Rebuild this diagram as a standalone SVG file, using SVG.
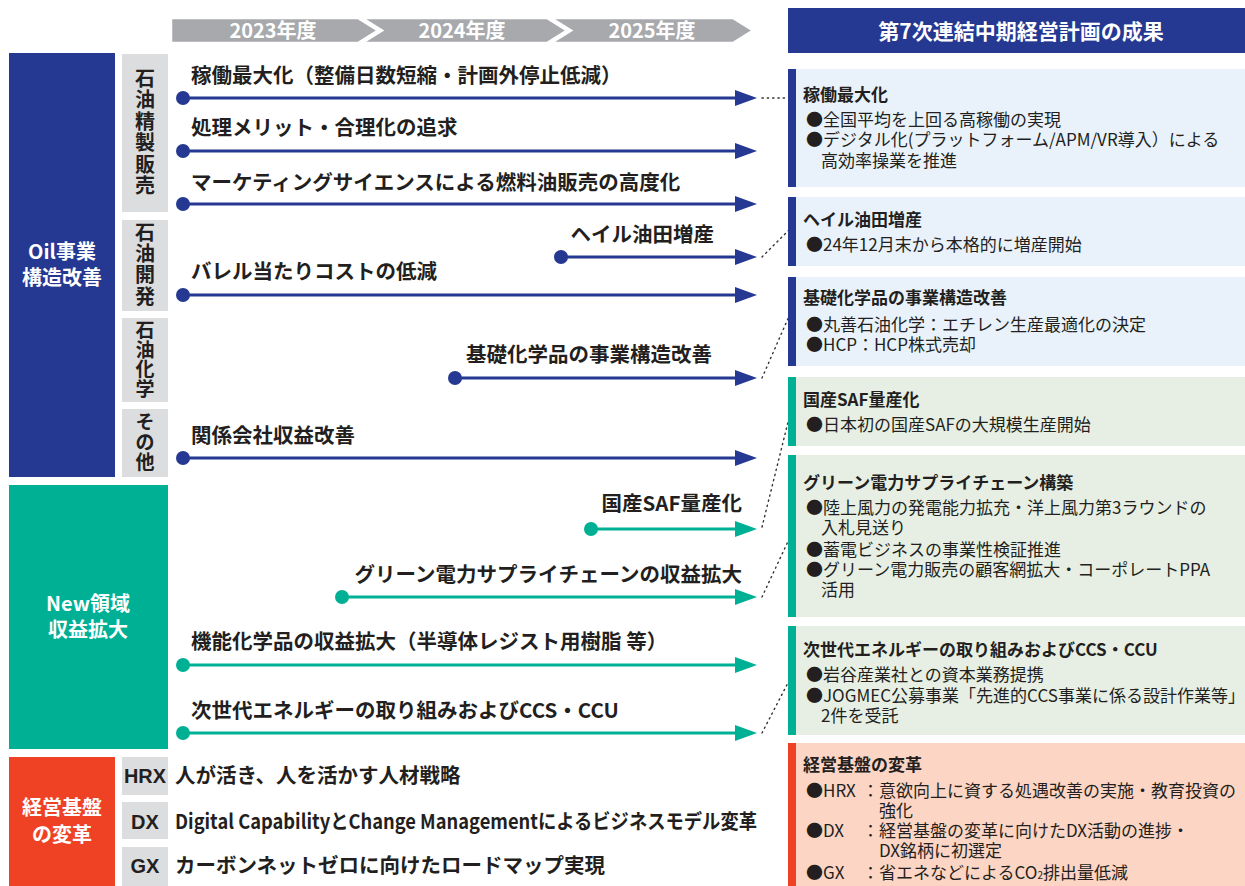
<svg xmlns="http://www.w3.org/2000/svg" width="1245" height="886" viewBox="0 0 1245 886">
<style>
.t{font-family:"Noto Sans CJK JP","Noto Sans",sans-serif;}
.lb{font-family:"Noto Sans CJK JP","Noto Sans",sans-serif;font-weight:700;font-size:20.5px;fill:#231f20;}
.wb{font-family:"Noto Sans CJK JP","Noto Sans",sans-serif;font-weight:700;fill:#ffffff;}
.vt{font-family:"Noto Sans CJK JP","Noto Sans",sans-serif;font-weight:700;font-size:20px;fill:#231f20;text-anchor:middle;}
.vs{font-family:"Noto Sans CJK JP","Noto Sans",sans-serif;font-weight:700;font-size:19px;fill:#231f20;text-anchor:middle;}
.bt{font-family:"Noto Sans CJK JP","Noto Sans",sans-serif;font-weight:700;font-size:17px;fill:#231f20;}
.bb{font-family:"Noto Sans CJK JP","Noto Sans",sans-serif;font-weight:400;font-size:17px;fill:#231f20;}
.nv{stroke:#253892;stroke-width:3.2;fill:none;}
.gr{stroke:#00b094;stroke-width:3.2;fill:none;}
.dot{stroke:#333333;stroke-width:1.4;fill:none;stroke-dasharray:1.3 4;stroke-linecap:round;}
.gseg{fill:#a7a9ac;stroke:#ffffff;stroke-width:2.5;}
</style>
<defs>
<marker id="ahN" markerUnits="userSpaceOnUse" markerWidth="23" markerHeight="17" refX="0" refY="8.5" orient="auto"><path d="M0,0.5 L22,8.5 L0,16.5 z" fill="#253892"/></marker>
<marker id="ahG" markerUnits="userSpaceOnUse" markerWidth="23" markerHeight="17" refX="0" refY="8.5" orient="auto"><path d="M0,0.5 L22,8.5 L0,16.5 z" fill="#00b094"/></marker>
</defs>
<rect width="1245" height="886" fill="#ffffff"/>

<g id="timeline">
<polygon class="gseg" points="551,18 733,18 753,30.5 733,43 551,43 571,30.5"/>
<polygon class="gseg" points="362,18 547,18 567,30.5 547,43 362,43 382,30.5"/>
<polygon class="gseg" points="171,18 358,18 378,30.5 358,43 171,43"/>
<text class="wb" x="273" y="38" font-size="20" text-anchor="middle">2023年度</text>
<text class="wb" x="462" y="38" font-size="20" text-anchor="middle">2024年度</text>
<text class="wb" x="652" y="38" font-size="20" text-anchor="middle">2025年度</text>
</g>

<g id="header-results">
<rect x="788" y="8" width="457" height="45" fill="#253892"/>
<text class="wb" x="1021" y="38.5" font-size="21" text-anchor="middle">第7次連結中期経営計画の成果</text>
</g>

<g id="cat-oil">
<rect x="9" y="53" width="106" height="424" fill="#253892"/>
<text class="wb" x="62" y="259" font-size="20" text-anchor="middle">Oil事業</text>
<text class="wb" x="62" y="285" font-size="20" text-anchor="middle">構造改善</text>
</g>
<g id="sub-refining">
<rect x="122" y="54" width="46" height="158" fill="#dcddde"/>
<text class="vt"><tspan x="145" y="85.5">石</tspan><tspan x="145" y="107">油</tspan><tspan x="145" y="128.5">精</tspan><tspan x="145" y="150">製</tspan><tspan x="145" y="171.5">販</tspan><tspan x="145" y="193">売</tspan></text>
</g>
<g id="sub-upstream">
<rect x="122" y="220" width="46" height="91" fill="#dcddde"/>
<text class="vt"><tspan x="145" y="240">石</tspan><tspan x="145" y="261">油</tspan><tspan x="145" y="282">開</tspan><tspan x="145" y="304">発</tspan></text>
</g>
<g id="sub-petrochem">
<rect x="122" y="318" width="46" height="84" fill="#dcddde"/>
<text class="vs"><tspan x="145" y="337">石</tspan><tspan x="145" y="356.5">油</tspan><tspan x="145" y="376">化</tspan><tspan x="145" y="395.5">学</tspan></text>
</g>
<g id="sub-other">
<rect x="122" y="409" width="46" height="68" fill="#dcddde"/>
<text class="vs"><tspan x="145" y="429">そ</tspan><tspan x="145" y="449">の</tspan><tspan x="145" y="469">他</tspan></text>
</g>

<g id="cat-new">
<rect x="9" y="485" width="159" height="264" fill="#00b094"/>
<text class="wb" x="88" y="611" font-size="20" text-anchor="middle">New領域</text>
<text class="wb" x="88" y="637" font-size="20" text-anchor="middle">収益拡大</text>
</g>

<g id="cat-base">
<rect x="9" y="757" width="106" height="129" fill="#ef4123"/>
<text class="wb" x="62" y="815" font-size="20" text-anchor="middle">経営基盤</text>
<text class="wb" x="62" y="842" font-size="20" text-anchor="middle">の変革</text>
</g>
<g id="base-hrx">
<rect x="122" y="757" width="46" height="38" fill="#dcddde"/>
<text x="145" y="782.5" font-family="Liberation Sans, Arial, sans-serif" font-weight="700" font-size="20" fill="#231f20" text-anchor="middle" textLength="42" lengthAdjust="spacingAndGlyphs">HRX</text>
<text class="lb" x="175" y="782.5" font-size="20">人が活き、人を活かす人材戦略</text>
</g>
<g id="base-dx">
<rect x="122" y="802" width="46" height="37" fill="#dcddde"/>
<text x="145" y="829" font-family="Liberation Sans, Arial, sans-serif" font-weight="700" font-size="20" fill="#231f20" text-anchor="middle">DX</text>
<text class="lb" x="175" y="829" font-size="20" textLength="582" lengthAdjust="spacingAndGlyphs">Digital CapabilityとChange Managementによるビジネスモデル変革</text>
</g>
<g id="base-gx">
<rect x="122" y="847" width="46" height="39" fill="#dcddde"/>
<text x="145" y="873" font-family="Liberation Sans, Arial, sans-serif" font-weight="700" font-size="20" fill="#231f20" text-anchor="middle">GX</text>
<text class="lb" x="175" y="873" font-size="20">カーボンネットゼロに向けたロードマップ実現</text>
</g>

<g id="connectors">
<g id="arrow-1">
<circle cx="183" cy="98" r="7" fill="#253892"/><line class="nv" x1="183" y1="98" x2="735" y2="98" marker-end="url(#ahN)"/>
<text class="lb" x="191" y="82.5">稼働最大化（整備日数短縮・計画外停止低減）</text>
</g>
<g id="arrow-2">
<circle cx="183" cy="151" r="7" fill="#253892"/><line class="nv" x1="183" y1="151" x2="735" y2="151" marker-end="url(#ahN)"/>
<text class="lb" x="191" y="135">処理メリット・合理化の追求</text>
</g>
<g id="arrow-3">
<circle cx="183" cy="204" r="7" fill="#253892"/><line class="nv" x1="183" y1="204" x2="735" y2="204" marker-end="url(#ahN)"/>
<text class="lb" x="191" y="190">マーケティングサイエンスによる燃料油販売の高度化</text>
</g>
<g id="arrow-4">
<circle cx="561" cy="257" r="7" fill="#253892"/><line class="nv" x1="561" y1="257" x2="735" y2="257" marker-end="url(#ahN)"/>
<text class="lb" x="714" y="242" text-anchor="end">ヘイル油田増産</text>
</g>
<g id="arrow-5">
<circle cx="183" cy="295" r="7" fill="#253892"/><line class="nv" x1="183" y1="295" x2="735" y2="295" marker-end="url(#ahN)"/>
<text class="lb" x="191" y="279">バレル当たりコストの低減</text>
</g>
<g id="arrow-6">
<circle cx="455" cy="378" r="7" fill="#253892"/><line class="nv" x1="455" y1="378" x2="735" y2="378" marker-end="url(#ahN)"/>
<text class="lb" x="712" y="362" text-anchor="end">基礎化学品の事業構造改善</text>
</g>
<g id="arrow-7">
<circle cx="183" cy="458" r="7" fill="#253892"/><line class="nv" x1="183" y1="458" x2="735" y2="458" marker-end="url(#ahN)"/>
<text class="lb" x="191" y="443">関係会社収益改善</text>
</g>
<g id="arrow-8">
<circle cx="591" cy="529" r="7" fill="#00b094"/><line class="gr" x1="591" y1="529" x2="735" y2="529" marker-end="url(#ahG)"/>
<text class="lb" x="742" y="511" text-anchor="end">国産SAF量産化</text>
</g>
<g id="arrow-9">
<circle cx="342" cy="597" r="7" fill="#00b094"/><line class="gr" x1="342" y1="597" x2="735" y2="597" marker-end="url(#ahG)"/>
<text class="lb" x="742" y="582" text-anchor="end">グリーン電力サプライチェーンの収益拡大</text>
</g>
<g id="arrow-10">
<circle cx="183" cy="665" r="7" fill="#00b094"/><line class="gr" x1="183" y1="665" x2="735" y2="665" marker-end="url(#ahG)"/>
<text class="lb" x="191" y="649">機能化学品の収益拡大（半導体レジスト用樹脂 等）</text>
</g>
<g id="arrow-11">
<circle cx="183" cy="733" r="7" fill="#00b094"/><line class="gr" x1="183" y1="733" x2="735" y2="733" marker-end="url(#ahG)"/>
<text class="lb" x="191" y="718">次世代エネルギーの取り組みおよびCCS・CCU</text>
</g>
<g id="dotted-links">
<line class="dot" x1="762" y1="98" x2="788" y2="98"/>
<line class="dot" x1="762" y1="257" x2="790" y2="229"/>
<line class="dot" x1="762" y1="378" x2="790" y2="314"/>
<line class="dot" x1="762" y1="527" x2="791" y2="410"/>
<line class="dot" x1="762" y1="597" x2="791" y2="535"/>
<line class="dot" x1="762" y1="733" x2="791" y2="677"/>
</g>
</g>

<g id="result-1">
<rect x="788" y="69" width="457" height="118" fill="#e9f2fa"/><rect x="788" y="69" width="8" height="118" fill="#253892"/>
<text class="bt" x="803" y="101">稼働最大化</text>
<text class="bb" x="806" y="125.5">●全国平均を上回る高稼働の実現</text>
<text class="bb" x="806" y="146">●デジタル化(プラットフォーム/APM/VR導入）による</text>
<text class="bb" x="821" y="166.5">高効率操業を推進</text>
</g>
<g id="result-2">
<rect x="788" y="197" width="457" height="69" fill="#e9f2fa"/><rect x="788" y="197" width="8" height="69" fill="#253892"/>
<text class="bt" x="803" y="226">ヘイル油田増産</text>
<text class="bb" x="806" y="250.5">●24年12月末から本格的に増産開始</text>
</g>
<g id="result-3">
<rect x="788" y="277" width="457" height="89" fill="#e9f2fa"/><rect x="788" y="277" width="8" height="89" fill="#253892"/>
<text class="bt" x="803" y="304">基礎化学品の事業構造改善</text>
<text class="bb" x="806" y="330.5">●丸善石油化学：エチレン生産最適化の決定</text>
<text class="bb" x="806" y="350.5">●HCP：HCP株式売却</text>
</g>
<g id="result-4">
<rect x="788" y="377" width="457" height="69" fill="#e7efe4"/><rect x="788" y="377" width="8" height="69" fill="#00b094"/>
<text class="bt" x="803" y="405.5">国産SAF量産化</text>
<text class="bb" x="806" y="430.5">●日本初の国産SAFの大規模生産開始</text>
</g>
<g id="result-5">
<rect x="788" y="455" width="457" height="162" fill="#e7efe4"/><rect x="788" y="455" width="8" height="162" fill="#00b094"/>
<text class="bt" x="803" y="488.5">グリーン電力サプライチェーン構築</text>
<text class="bb" x="806" y="513.5">●陸上風力の発電能力拡充・洋上風力第3ラウンドの</text>
<text class="bb" x="821" y="534">入札見送り</text>
<text class="bb" x="806" y="555.5">●蓄電ビジネスの事業性検証推進</text>
<text class="bb" x="806" y="576">●グリーン電力販売の顧客網拡大・コーポレートPPA</text>
<text class="bb" x="821" y="596">活用</text>
</g>
<g id="result-6">
<rect x="788" y="626" width="457" height="109" fill="#e7efe4"/><rect x="788" y="626" width="8" height="109" fill="#00b094"/>
<text class="bt" x="803" y="655.5">次世代エネルギーの取り組みおよびCCS・CCU</text>
<text class="bb" x="806" y="680.5">●岩谷産業社との資本業務提携</text>
<text class="bb" x="806" y="701.5">●JOGMEC公募事業「先進的CCS事業に係る設計作業等」</text>
<text class="bb" x="821" y="721.5">2件を受託</text>
</g>
<g id="result-7">
<rect x="788" y="743" width="457" height="143" fill="#fcd5c4"/><rect x="788" y="743" width="8" height="143" fill="#ef4123"/>
<text class="bt" x="803" y="770.5">経営基盤の変革</text>
<text class="bb" x="806" y="796.5">●HRX</text><text class="bb" x="862" y="796.5">：意欲向上に資する処遇改善の実施・教育投資の</text>
<text class="bb" x="879" y="816.5">強化</text>
<text class="bb" x="806" y="836.5">●DX</text><text class="bb" x="862" y="836.5">：経営基盤の変革に向けたDX活動の進捗・</text>
<text class="bb" x="879" y="856.5">DX銘柄に初選定</text>
<text class="bb" x="806" y="878.5">●GX</text><text class="bb" x="862" y="878.5">：省エネなどによるCO<tspan font-size="10">2</tspan>排出量低減</text>
</g>
</svg>
